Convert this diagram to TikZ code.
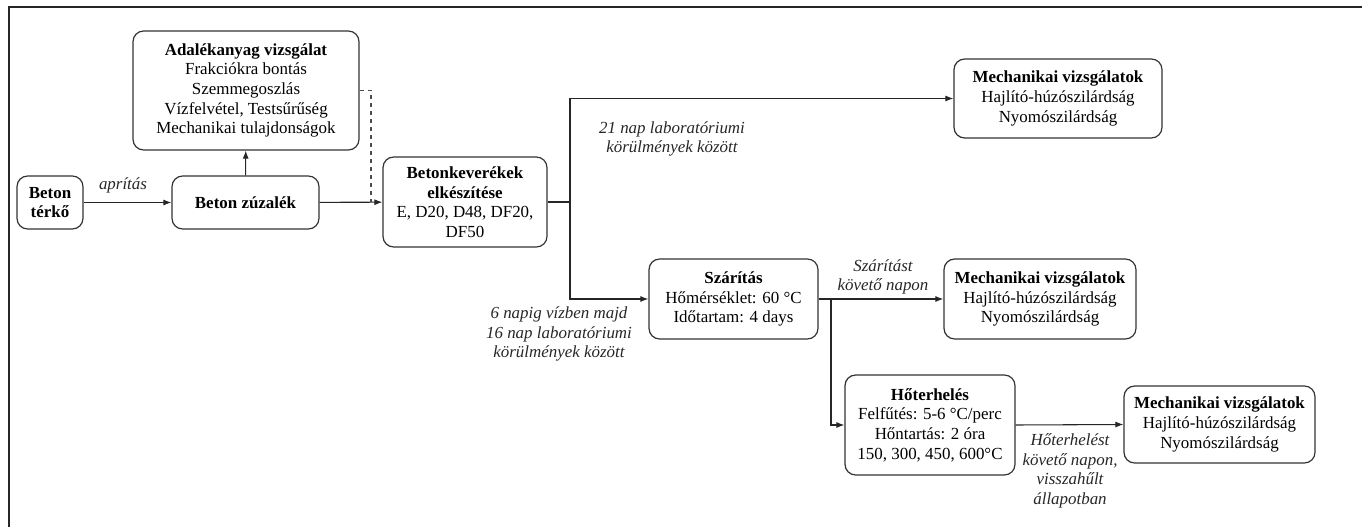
\documentclass[tikz,border=0pt]{standalone}
\usepackage{fontspec}
\setmainfont{Liberation Serif}
\usetikzlibrary{arrows.meta}
\tikzset{
  box/.style={draw=black!80, line width=0.9pt, rounded corners=8pt, align=center, inner sep=0pt,
    font=\fontsize{12.7}{14.7}\selectfont},
  lbl/.style={align=center, inner sep=0pt, font=\fontsize{12.7}{14.7}\selectfont\itshape, text=black!85},
  conn/.style={draw=black!85, line width=0.8pt},
  arr/.style={conn, -{Latex[length=6pt,width=4.5pt]}},
  dashconn/.style={draw=black!70, line width=0.8pt, dashed}
}
\begin{document}
\begin{tikzpicture}[x=0.75pt,y=-0.75pt]
\useasboundingbox (0,0) rectangle (1362,527);
\draw[line width=1.4pt, black!85] (9,527) -- (9,7) -- (1362,7);

\node[box, minimum width=49.5pt, minimum height=39.75pt] (terko) at (50,202.5) {\textbf{Beton}\\\textbf{térkő}};
\node[box, minimum width=110.25pt, minimum height=39.75pt] (zuz) at (245.5,202.5) {\textbf{Beton zúzalék}};
\node[box, minimum width=169.5pt, minimum height=89.25pt] (adal) at (246,90.5) {\textbf{Adalékanyag vizsgálat}\\Frakciókra bontás\\Szemmegoszlás\\Vízfelvétel, Testsűrűség\\Mechanikai tulajdonságok};
\node[box, minimum width=123pt, minimum height=67.5pt] (kev) at (465,202) {\textbf{Betonkeverékek}\\\textbf{elkészítése}\\E, D20, D48, DF20,\\DF50};
\node[box, minimum width=156pt, minimum height=59.25pt] (mech1) at (1058,98.5) {\textbf{Mechanikai vizsgálatok}\\Hajlító-húzószilárdság\\Nyomószilárdság};
\node[box, minimum width=126.75pt, minimum height=60pt] (szar) at (733.5,299) {\textbf{Szárítás}\\Hőmérséklet: 60 °C\\Időtartam: 4 days};
\node[box, minimum width=144pt, minimum height=60pt] (mech2) at (1040,299) {\textbf{Mechanikai vizsgálatok}\\Hajlító-húzószilárdság\\Nyomószilárdság};
\node[box, minimum width=127.5pt, minimum height=75pt] (hot) at (930,425) {\textbf{Hőterhelés}\\Felfűtés: 5-6 °C/perc\\Hőntartás: 2 óra\\150, 300, 450, 600°C};
\node[box, minimum width=143.25pt, minimum height=57.75pt] (mech3) at (1219.5,424.5) {\textbf{Mechanikai vizsgálatok}\\Hajlító-húzószilárdság\\Nyomószilárdság};

\node[lbl] (l1) at (123,185) {aprítás};
\node[lbl] (l2) at (672,139) {21 nap laboratóriumi\\körülmények között};
\node[lbl] (l3) at (559,334) {6 napig vízben majd\\16 nap laboratóriumi\\körülmények között};
\node[lbl] (l4) at (883,277) {Szárítást\\követő napon};
\node[lbl] (l5) at (1070,471) {Hőterhelést\\követő napon,\\visszahűlt\\állapotban};

\coordinate (j1) at (371,202);
\coordinate (s1) at (570,202);
\coordinate (s2) at (831,299);

\draw[arr] (terko) -- (zuz);
\draw[arr] (zuz) -- (adal);
\draw[arr] (zuz) -- (kev);
\draw[dashconn] (adal.east) -| (j1);
\draw[conn] (kev.east) -- (s1);
\draw[arr] (s1) |- (mech1.west);
\draw[arr] (s1) |- (szar.west);
\draw[arr] (szar.east) -- (mech2.west);
\draw[arr] (s2) |- (hot.west);
\draw[arr] (hot.east) -- (mech3.west);
\end{tikzpicture}
\end{document}
